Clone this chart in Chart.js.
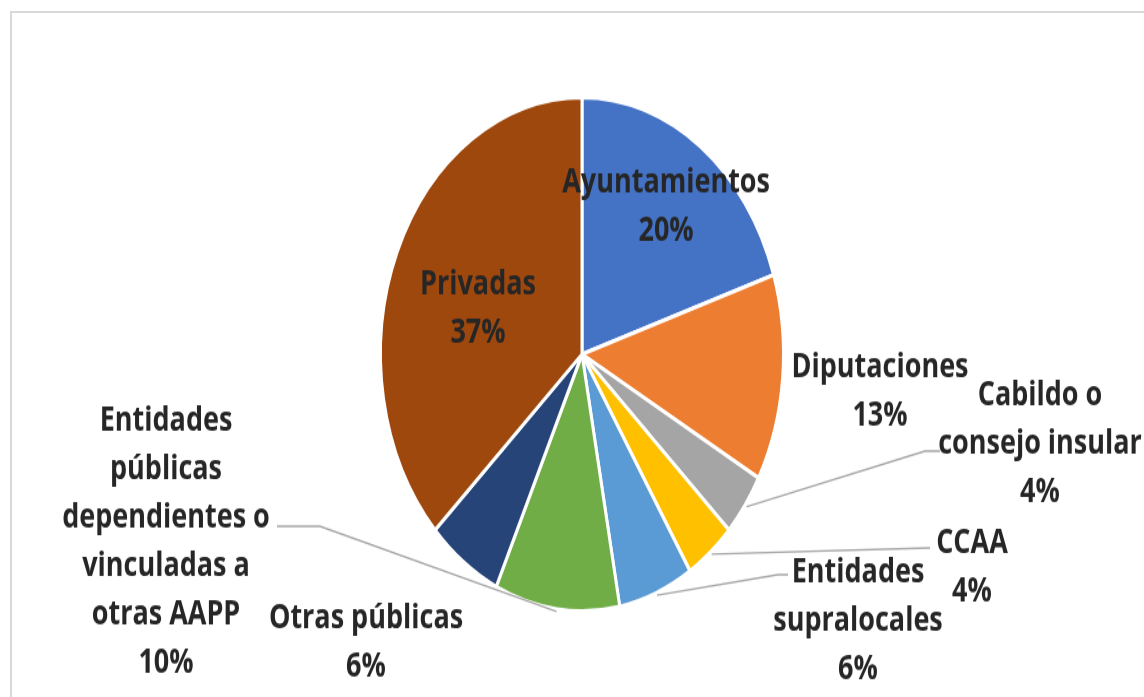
<!DOCTYPE html>
<html>
<head>
<meta charset="utf-8">
<script src="https://cdn.jsdelivr.net/npm/chart.js@4/dist/chart.umd.min.js"></script>
<style>
  html, body { margin: 0; padding: 0; background: #fff; overflow: hidden; }
  body { width: 1144px; height: 697px; position: relative; }
  #frame {
    position: absolute; left: 10px; top: 11px; width: 1200px; height: 800px;
    border: 2px solid #d9d9d9; box-sizing: border-box;
  }
  /* the original picture is stretched vertically, pie and text alike */
  #wrap {
    position: absolute; left: 0; top: 0; width: 1144px; height: 547px;
    transform: scaleY(1.2742); transform-origin: 0 0;
  }
</style>
</head>
<body>
<div id="frame"></div>
<div id="wrap"><canvas id="chart" width="1144" height="547"></canvas></div>
<script>
const categories = [
  'Ayuntamientos',
  'Diputaciones',
  'Cabildo o consejo insular',
  'CCAA',
  'Entidades supralocales',
  'Entidades públicas dependientes o vinculadas a otras AAPP',
  'Otras públicas',
  'Privadas',
];
const shares = [20, 13, 4, 4, 6, 10, 6, 37];
const sliceColors = [
  '#4472C4', '#ED7D31', '#A5A5A5', '#FFC000',
  '#5B9BD5', '#70AD47', '#264478', '#9E480E',
];

// how each label is wrapped and where it sits (offsets from the pie centre)
const labelLayout = [
  { lines: ['Ayuntamientos'], inside: 0.71 },
  { lines: ['Diputaciones'], at: [298, 29] },
  { lines: ['Cabildo o', 'consejo insular'], at: [458, 70], leader: [[343, 76], [358, 76]] },
  { lines: ['CCAA'], at: [390, 167], leader: [[348, 152]] },
  { lines: ['Entidades', 'supralocales'], at: [276, 209], leader: [[196, 173], [206, 173]] },
  { lines: ['Entidades', 'públicas', 'dependientes o', 'vinculadas a', 'otras AAPP'], at: [-416, 147], leader: [[-262, 135], [-305, 135]] },
  { lines: ['Otras públicas'], at: [-216, 226] },
  { lines: ['Privadas'], at: [-104, -36] },
];

const pieLabels = {
  id: 'pieLabels',
  afterDraw(chart) {
    const ctx = chart.ctx;
    const arcs = chart.getDatasetMeta(0).data;
    const total = shares.reduce((a, b) => a + b, 0);
    ctx.save();
    ctx.font = 'bold 27px "Open Sans"';
    ctx.fillStyle = '#262626';
    ctx.textAlign = 'center';
    ctx.textBaseline = 'middle';
    ctx.strokeStyle = '#a6a6a6';
    ctx.lineWidth = 1.3;
    arcs.forEach((arc, i) => {
      const lay = labelLayout[i];
      const mid = (arc.startAngle + arc.endAngle) / 2;
      const cx = arc.x, cy = arc.y, r = arc.outerRadius;
      let lx, ly;
      if (lay.inside) {
        lx = cx + Math.cos(mid) * r * lay.inside;
        ly = cy + Math.sin(mid) * r * lay.inside;
      } else {
        lx = cx + lay.at[0];
        ly = cy + lay.at[1];
      }
      if (lay.leader) {
        ctx.beginPath();
        ctx.moveTo(cx + Math.cos(mid) * (r + 2), cy + Math.sin(mid) * (r + 2));
        lay.leader.forEach(p => ctx.lineTo(cx + p[0], cy + p[1]));
        ctx.stroke();
      }
      const lines = lay.lines.concat([Math.round(shares[i] / total * 100) + '%']);
      const lh = 38;
      const y0 = ly - (lines.length - 1) * lh / 2;
      lines.forEach((t, k) => ctx.fillText(t, lx, y0 + k * lh));
    });
    ctx.restore();
  },
};

new Chart(document.getElementById('chart').getContext('2d'), {
  type: 'pie',
  data: {
    labels: categories,
    datasets: [{
      data: shares,
      backgroundColor: sliceColors,
      borderColor: '#ffffff',
      borderWidth: 3,
    }],
  },
  options: {
    responsive: false,
    devicePixelRatio: 1,
    animation: false,
    layout: { padding: { left: 379, right: 359, top: 75, bottom: 66 } },
    plugins: { legend: { display: false }, tooltip: { enabled: false } },
  },
  plugins: [pieLabels],
});
</script>
</body>
</html>
